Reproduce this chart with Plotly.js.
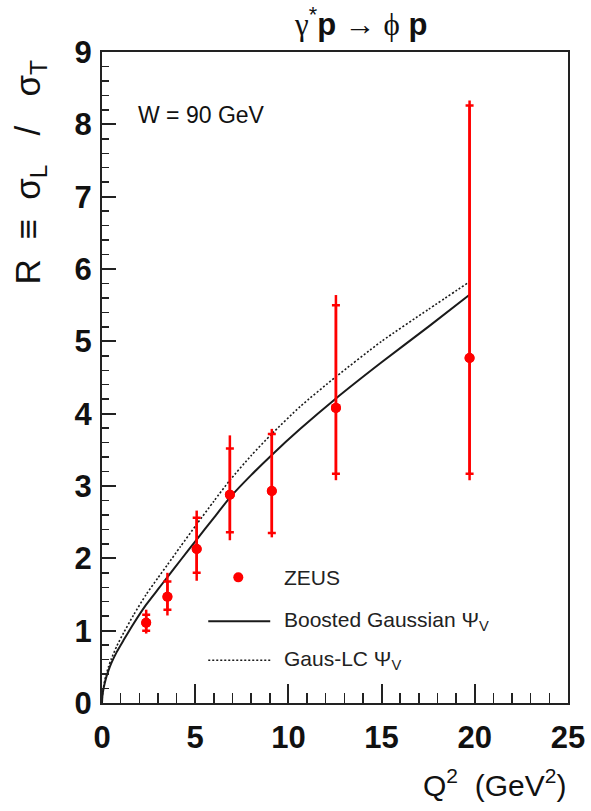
<!DOCTYPE html>
<html>
<head>
<meta charset="utf-8">
<script src="https://cdn.plot.ly/plotly-3.0.1.min.js"></script>
<style>html,body{margin:0;padding:0;background:#fff;}#chart{width:591px;height:811px;}</style>
</head>
<body>
<div id="chart"></div>
<script>
// ZEUS data: Q^2, R, stat (inner ticks) and total (outer extent) errors
const q2 = [2.37, 3.51, 5.08, 6.86, 9.11, 12.55, 19.72];
const R = [1.11, 1.47, 2.13, 2.88, 2.93, 4.08, 4.77];
const statUp = [0.11, 0.21, 0.43, 0.64, 0.79, 1.42, 3.49];
const statDown = [0.11, 0.18, 0.33, 0.52, 0.58, 0.91, 1.60];
const totUp = [0.18, 0.33, 0.53, 0.82, 0.86, 1.56, 3.56];
const totDown = [0.15, 0.26, 0.44, 0.63, 0.64, 1.00, 1.69];

// Model curves
const curveQ2 = [0, 0.02, 0.05, 0.1, 0.2, 0.35, 0.5, 0.8, 1.16, 1.7, 2.37, 3.0, 3.51, 4.2, 5.08, 6.0, 6.86, 8.0, 9.11, 10.64, 12.55, 15, 17.5, 19.7];
const boosted = [0, 0.09, 0.15, 0.22, 0.33, 0.45, 0.55, 0.71, 0.87, 1.10, 1.36, 1.57, 1.74, 1.97, 2.26, 2.56, 2.84, 3.15, 3.43, 3.79, 4.21, 4.71, 5.20, 5.64];
const gausLC = [0, 0.10, 0.17, 0.245, 0.37, 0.50, 0.61, 0.79, 0.97, 1.22, 1.50, 1.73, 1.91, 2.16, 2.47, 2.79, 3.08, 3.42, 3.72, 4.10, 4.51, 5.00, 5.44, 5.82];

const xTicks = [0, 5, 10, 15, 20, 25];
const yTicks = [0, 1, 2, 3, 4, 5, 6, 7, 8, 9];

const FONT = 'Liberation Sans, Arial, Helvetica, sans-serif';
const SERIF = 'Liberation Serif, Times New Roman, serif';
const NB = '\u00A0';

const traces = [
  {x: curveQ2, y: boosted, mode: 'lines', line: {color: '#1a1a1a', width: 2, shape: 'spline', smoothing: 0.6}, showlegend: false, hoverinfo: 'skip'},
  {x: curveQ2, y: gausLC, mode: 'lines', line: {color: '#1a1a1a', width: 1.6, dash: '2px,2px', shape: 'spline', smoothing: 0.6}, showlegend: false, hoverinfo: 'skip'},
  {x: q2, y: R, mode: 'markers', marker: {color: '#ff0000', size: 10},
   error_y: {type: 'data', symmetric: false, array: totUp, arrayminus: totDown, color: '#ff0000', thickness: 2.5, width: 0},
   showlegend: false},
  {x: q2, y: R, mode: 'markers', marker: {color: '#ff0000', size: 10},
   error_y: {type: 'data', symmetric: false, array: statUp, arrayminus: statDown, color: '#ff0000', thickness: 2.5, width: 4},
   showlegend: false}
];

const layout = {
  width: 591, height: 811,
  margin: {l: 102, r: 23, t: 52, b: 108},
  paper_bgcolor: '#fff', plot_bgcolor: '#fff',
  showlegend: false,
  font: {family: FONT, color: '#000'},
  xaxis: {
    range: [0, 25], tickvals: xTicks, ticktext: xTicks.map(String),
    ticks: 'inside', ticklen: 19, tickwidth: 2, tickcolor: '#222',
    minor: {dtick: 1, ticks: 'inside', ticklen: 10, tickwidth: 1.5, tickcolor: '#222'},
    showline: true, mirror: true, linewidth: 2, linecolor: '#222',
    showgrid: false, zeroline: false,
    tickfont: {family: FONT, size: 31, color: '#111', weight: 'bold'},
    ticklabelstandoff: 6
  },
  yaxis: {
    range: [0, 9], tickvals: yTicks, ticktext: yTicks.map(String),
    ticks: 'inside', ticklen: 14, tickwidth: 2, tickcolor: '#222',
    minor: {dtick: 0.2, ticks: 'inside', ticklen: 7, tickwidth: 1.5, tickcolor: '#222'},
    showline: true, mirror: true, linewidth: 2, linecolor: '#222',
    showgrid: false, zeroline: false,
    tickfont: {family: FONT, size: 31, color: '#111', weight: 'bold'},
    ticklabelstandoff: 2
  },
  annotations: [
    {text: '<span style="font-family:' + SERIF + '">γ</span><sup>*</sup><b>p</b> <span style="font-family:' + SERIF + '">→ ϕ</span> <b>p</b>',
     xref: 'paper', yref: 'paper', x: 0.555, y: 1.0, yshift: 30,
     xanchor: 'center', yanchor: 'middle', showarrow: false, font: {family: FONT, size: 31, color: '#111'}},
    {text: 'R' + NB + NB + '≡' + NB + NB + 'σ<sub>L</sub>' + NB + NB + NB + '/' + NB + NB + NB + 'σ<sub>T</sub>', xref: 'paper', yref: 'paper', x: 0, xshift: -72, y: 0.815,
     xanchor: 'center', yanchor: 'middle', textangle: -90, showarrow: false, font: {family: FONT, size: 35, color: '#111'}},
    {text: 'Q<sup>2</sup>' + NB + NB + '(GeV<sup>2</sup>)', xref: 'paper', yref: 'paper', x: 1.0, y: 0, yshift: -80,
     xanchor: 'right', yanchor: 'middle', showarrow: false, font: {family: FONT, size: 30, color: '#111'}},
    {text: 'W = 90 GeV', xref: 'paper', yref: 'paper', x: 0.074, y: 0.903,
     xanchor: 'left', yanchor: 'middle', showarrow: false, font: {family: FONT, size: 23, color: '#111'}},
    {text: 'ZEUS', xref: 'paper', yref: 'paper', x: 0.386, y: 0.193,
     xanchor: 'left', yanchor: 'middle', showarrow: false, font: {family: FONT, size: 21, color: '#222'}},
    {text: 'Boosted Gaussian Ψ<sub>V</sub>', xref: 'paper', yref: 'paper', x: 0.386, y: 0.1255,
     xanchor: 'left', yanchor: 'middle', showarrow: false, font: {family: FONT, size: 21, color: '#222'}},
    {text: 'Gaus-LC Ψ<sub>V</sub>', xref: 'paper', yref: 'paper', x: 0.386, y: 0.0656,
     xanchor: 'left', yanchor: 'middle', showarrow: false, font: {family: FONT, size: 21, color: '#222'}}
  ],
  shapes: [
    {type: 'circle', xref: 'paper', yref: 'paper', xsizemode: 'pixel', ysizemode: 'pixel',
     xanchor: 0.2925, yanchor: 0.193, x0: -5, x1: 5, y0: -5, y1: 5, fillcolor: '#ff0000', line: {width: 0}},
    {type: 'line', xref: 'paper', yref: 'paper', x0: 0.228, x1: 0.361, y0: 0.1255, y1: 0.1255, line: {color: '#1a1a1a', width: 2}},
    {type: 'line', xref: 'paper', yref: 'paper', x0: 0.228, x1: 0.361, y0: 0.0656, y1: 0.0656, line: {color: '#1a1a1a', width: 1.6, dash: '2px,2px'}}
  ]
};

Plotly.newPlot('chart', traces, layout, {displayModeBar: false, staticPlot: true});
</script>
</body>
</html>
